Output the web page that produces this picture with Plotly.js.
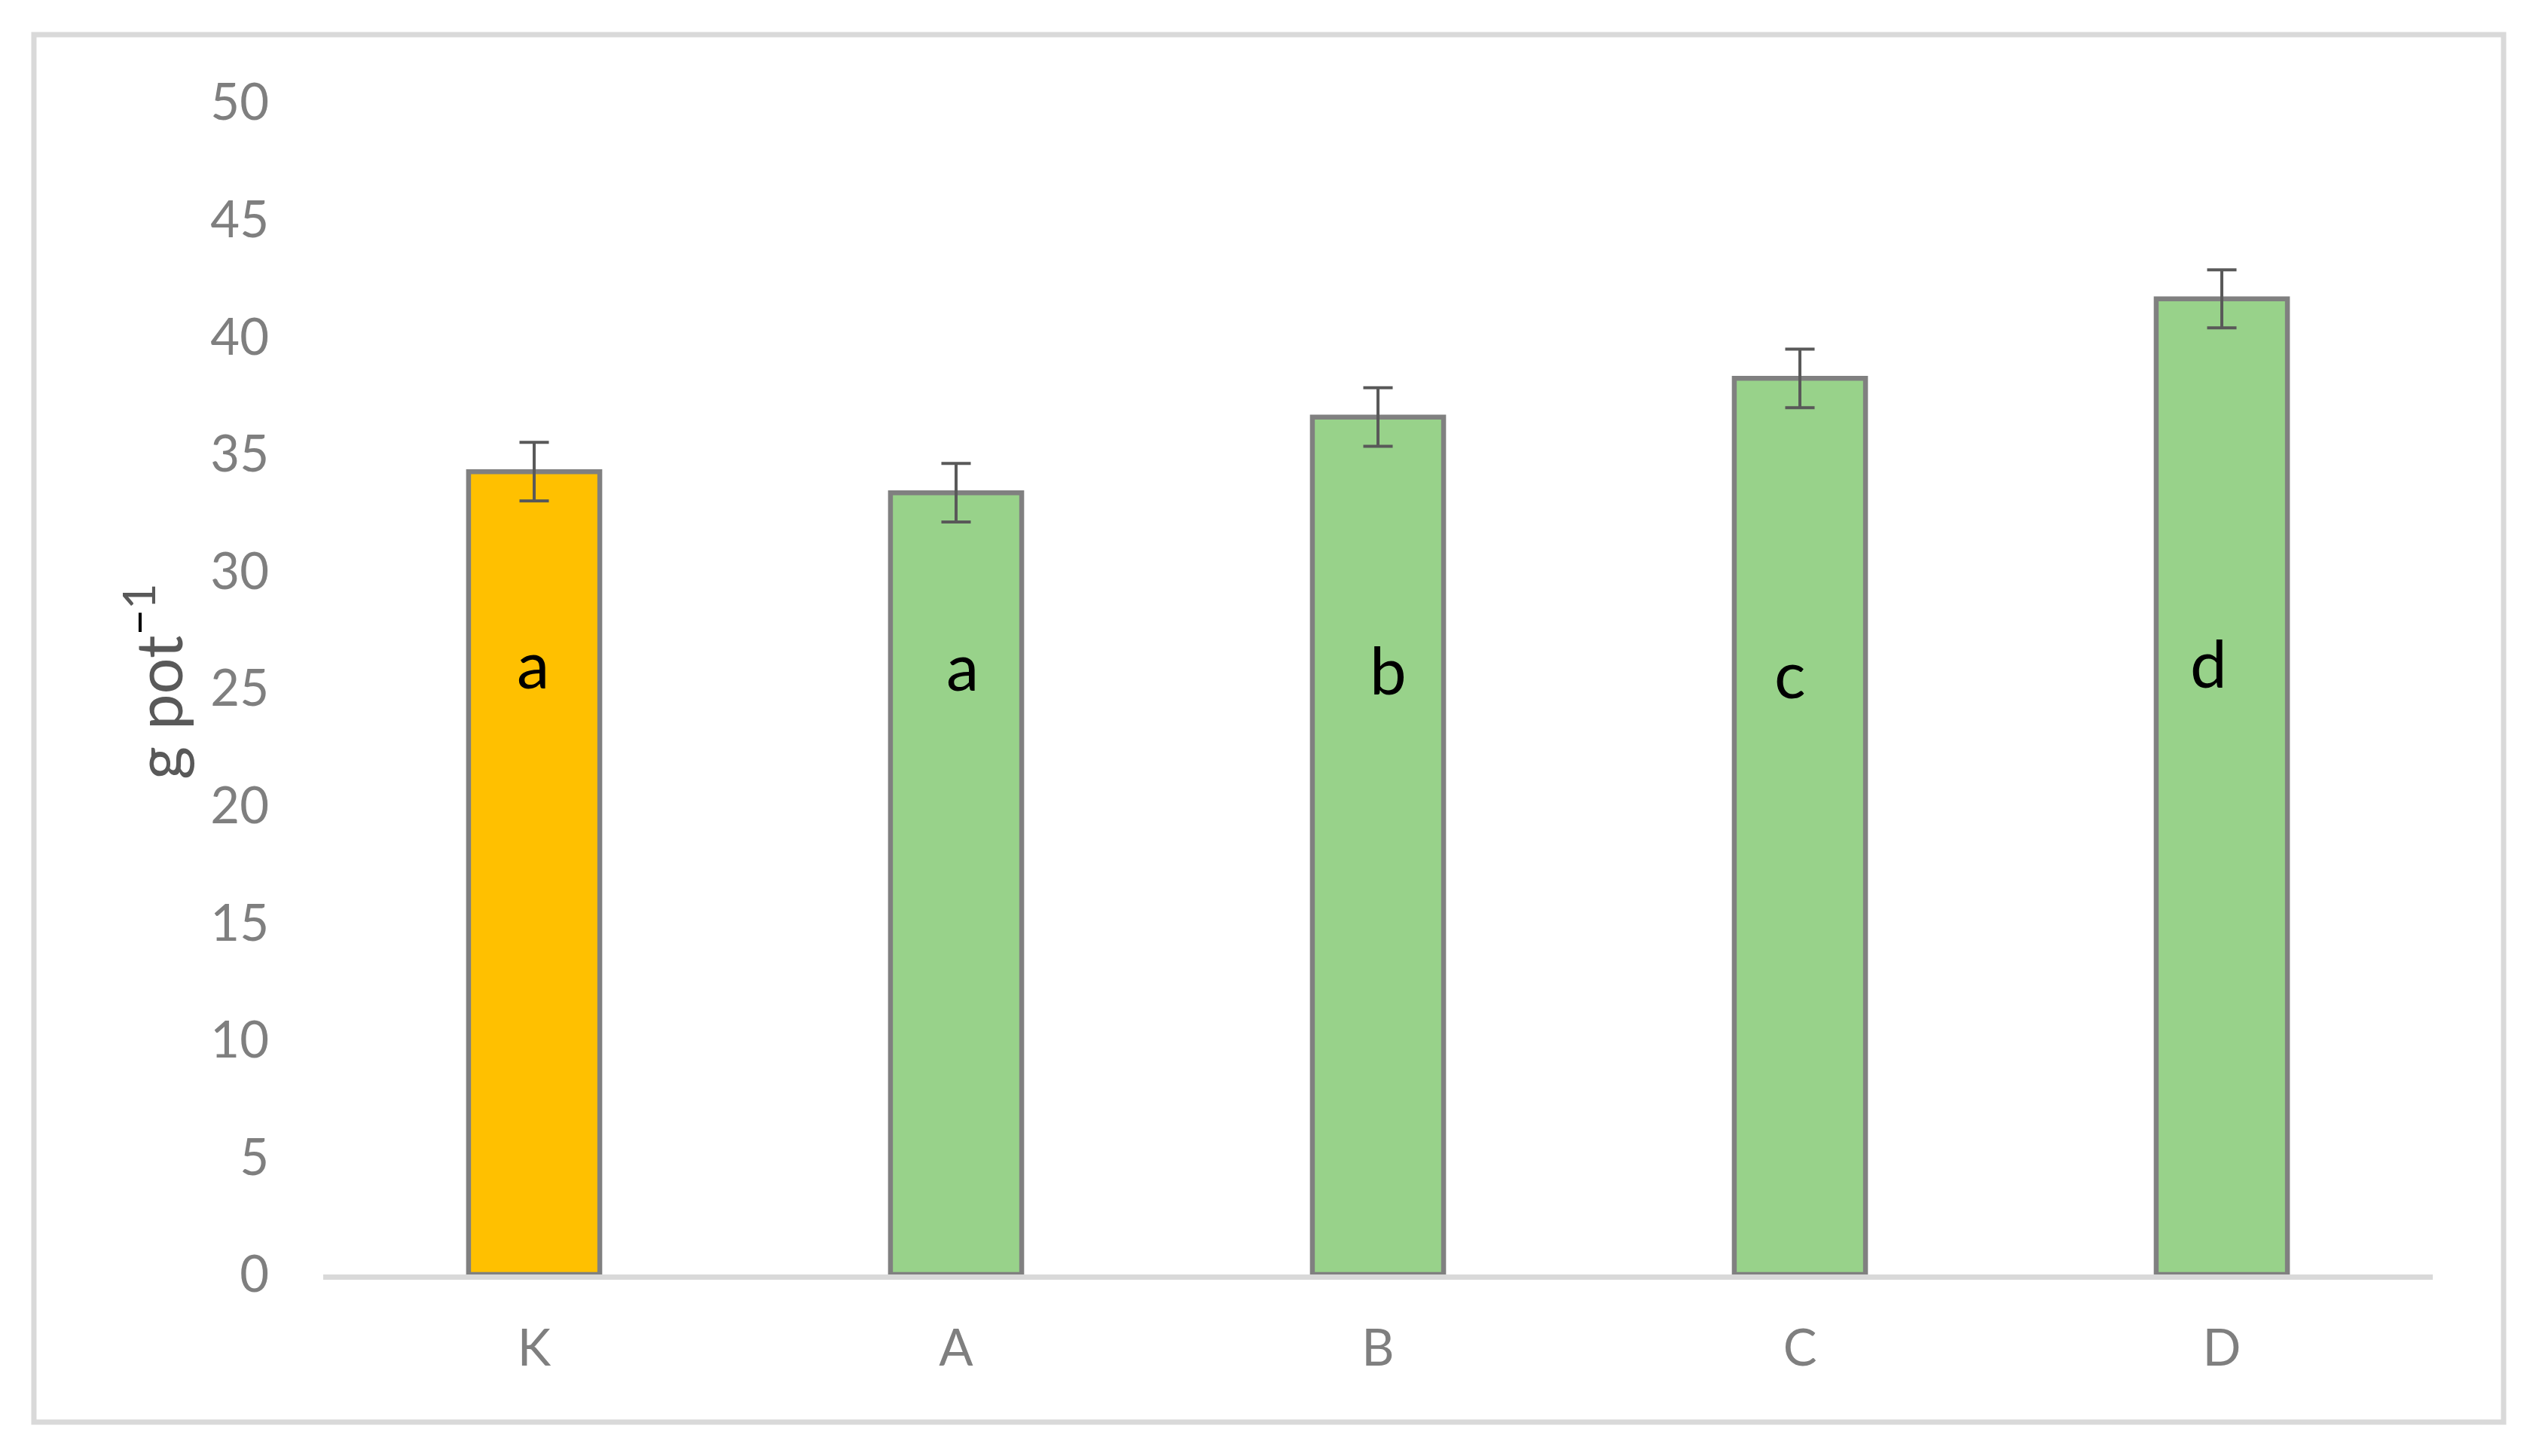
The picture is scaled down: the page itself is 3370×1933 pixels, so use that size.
<!DOCTYPE html>
<html>
<head>
<meta charset="utf-8">
<script src="https://cdn.plot.ly/plotly-3.0.1.min.js"></script>
<style>
  html, body { margin: 0; padding: 0; background: #ffffff; }
  #chart { width: 3370px; height: 1933px; }
</style>
</head>
<body>
<div id="chart"></div>
<script>
// ---- data ----
const categories = ['K', 'A', 'B', 'C', 'D'];
const means = [34.25, 33.35, 36.58, 38.23, 41.62];
const errors = [1.25, 1.25, 1.25, 1.25, 1.24];
const letters = ['a', 'a', 'b', 'c', 'd'];
const yTickValues = [0, 5, 10, 15, 20, 25, 30, 35, 40, 45, 50];
const yTitle = 'g pot<sup><span style="color:#000000">−</span>1</sup>';

// ---- style / layout ----
const W = 3370, H = 1933;
const ML = 429, MR = 141, MT = 136, MB = 241;
const PW = W - ML - MR, PH = H - MT - MB;
const px2x = p => (p - ML) / PW;
const px2y = p => (H - MB - p) / PH;
const FONT = 'Lato, "Open Sans", sans-serif';
const fillColors = ['#FFC000', '#98D28A', '#98D28A', '#98D28A', '#98D28A'];
const letterY = 25.6;                         // label height in data units
const letterXShift = [-2, 8, 13, -13, -18];   // manual text-box nudges (px)
const letterYShift = [15, 12, 7, 2, 16];

const trace = {
  type: 'bar',
  x: categories,
  y: means,
  marker: { color: fillColors, line: { color: '#808080', width: 6.5 } },
  error_y: { type: 'data', array: errors, visible: true, color: '#595959', thickness: 4, width: 19.5 },
  hoverinfo: 'skip'
};

const annotations = letters.map((t, i) => ({
  x: categories[i], y: letterY, xref: 'x', yref: 'y',
  text: t, showarrow: false,
  xanchor: 'center', yanchor: 'middle',
  xshift: letterXShift[i], yshift: letterYShift[i],
  font: { family: FONT, size: 87, color: '#000000' }
}));
annotations.push({
  xref: 'paper', yref: 'paper', x: 0, y: px2y(905),
  xshift: 203 - ML, xanchor: 'center', yanchor: 'middle',
  text: yTitle, textangle: -90, showarrow: false,
  font: { family: FONT, size: 85, color: '#595959' }
});

const layout = {
  width: W, height: H,
  margin: { l: ML, r: MR, t: MT, b: MB, pad: 0 },
  paper_bgcolor: '#ffffff', plot_bgcolor: '#ffffff',
  showlegend: false,
  bargap: 0.689,
  xaxis: {
    type: 'category', range: [-0.5, 4.5],
    showgrid: false, zeroline: false,
    showline: true, linecolor: '#D9D9D9', linewidth: 7,
    ticks: '', ticklabelstandoff: 34,
    tickfont: { family: FONT, size: 67, color: '#7F7F7F' }
  },
  yaxis: {
    range: [0, 50], tickvals: yTickValues,
    showgrid: false, zeroline: false, showline: false,
    ticks: '', ticklabelstandoff: 71,
    tickfont: { family: FONT, size: 67, color: '#7F7F7F' }
  },
  shapes: [{
    type: 'rect', xref: 'paper', yref: 'paper',
    x0: px2x(45), x1: px2x(3323), y0: px2y(1888), y1: px2y(46),
    line: { color: '#D9D9D9', width: 7 }, fillcolor: 'rgba(0,0,0,0)', layer: 'below'
  }],
  annotations: annotations
};

Plotly.newPlot('chart', [trace], layout, { displayModeBar: false, staticPlot: true });
</script>
</body>
</html>
